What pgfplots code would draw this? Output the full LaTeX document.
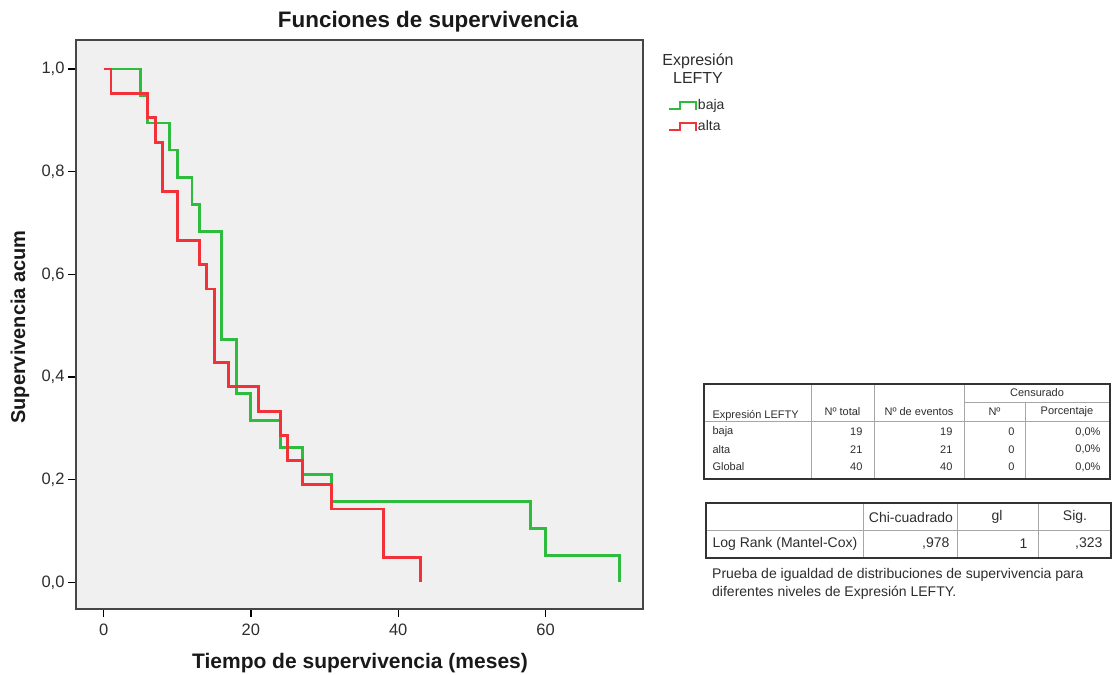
\documentclass[border=0pt]{standalone}
\usepackage{fontspec}
\setmainfont{Liberation Sans}
\usepackage{pgfplots}
\pgfplotsset{compat=1.18}
\definecolor{kmgreen}{RGB}{45,188,62}
\definecolor{kmred}{RGB}{242,50,56}
\definecolor{plotbg}{RGB}{240,240,240}
\definecolor{framec}{RGB}{70,70,70}
\definecolor{txt}{RGB}{45,45,45}
\begin{document}
\begin{tikzpicture}[x=1pt,y=1pt]
\useasboundingbox (0,0) rectangle (1115,674);
\begin{axis}[
  at={(76pt,65pt)}, anchor=south west,
  scale only axis, width=567pt, height=569pt,
  xmin=-3.75, xmax=73.24, ymin=-0.052, ymax=1.0565,
  axis background/.style={fill=plotbg},
  axis line style={framec, line width=1.4pt},
  xtick={0,20,40,60}, ytick={0,0.2,0.4,0.6,0.8,1},
  tick align=outside, xtick pos=bottom, ytick pos=left,
  major tick length=8pt,
  tick style={black, line width=1.3pt},
  /pgf/number format/assume math mode=true,
  yticklabel style={/pgf/number format/.cd, fixed, fixed zerofill, precision=1, use comma},
  ticklabel style={font=\fontsize{16.5}{19}\selectfont, text=txt},
  xticklabel style={yshift=-3pt},
  legend style={at={(axis description cs:1.043,0.897)}, anchor=north west,
    draw=none, fill=none, inner sep=0pt, row sep=6pt,
    font=\fontsize{14}{16}\selectfont,
    nodes={inner sep=1pt, text height=10pt, text depth=3pt, text=txt}},
  legend cell align=left,
  legend image code/.code={\draw[#1, line width=2.4pt] (0pt,-3pt) -- (11pt,-3pt) -- (11pt,4pt) -- (27pt,4pt) -- (27pt,-4pt);},
]
\addplot[const plot, kmgreen, line width=2.9pt] coordinates {
(0,1) (5,0.947368) (6,0.894737) (9,0.842105) (10,0.789474) (12,0.736842)
(13,0.684211) (16,0.473684) (18,0.368421) (20,0.315789) (24,0.263158)
(27,0.210526) (31,0.157895) (58,0.105263) (60,0.052632) (70,0)};
\addlegendentry{baja}
\addplot[const plot, kmred, line width=2.9pt] coordinates {
(0,1) (1,0.952381) (6,0.904762) (7,0.857143) (8,0.761905) (10,0.666667)
(13,0.619048) (14,0.571429) (15,0.428571) (17,0.380952) (21,0.333333)
(24,0.285714) (25,0.238095) (27,0.190476) (31,0.142857) (38,0.047619) (43,0)};
\addlegendentry{alta}
\end{axis}
% titles
\node[anchor=base, font=\bfseries\fontsize{22.4}{24}\selectfont, text=black!90] at (428,646) {Funciones de supervivencia};
\node[anchor=base, font=\bfseries\fontsize{21}{24}\selectfont, text=black!90] at (360,6) {Tiempo de supervivencia (meses)};
\node[rotate=90, anchor=center, font=\bfseries\fontsize{20}{22}\selectfont, text=black!90] at (20,347) {Supervivencia acum};
\node[anchor=base, font=\fontsize{16}{18}\selectfont, text=txt] at (698,608) {Expresión};
\node[anchor=base, font=\fontsize{16}{18}\selectfont, text=txt] at (698,590) {LEFTY};
% table 1
\begin{scope}[font=\fontsize{11}{13}\selectfont, text=txt]
\draw[gray!70, line width=0.8pt] (704,253) -- (1110,253);
\draw[gray!70, line width=0.8pt] (964,272) -- (1110,272);
\draw[gray!70, line width=0.8pt] (811,290) -- (811,195);
\draw[gray!70, line width=0.8pt] (874,290) -- (874,195);
\draw[gray!70, line width=0.8pt] (964,290) -- (964,195);
\draw[gray!70, line width=0.8pt] (1025,272) -- (1025,195);
\draw[black!80, line width=1.5pt] (704,195) rectangle (1110,290);
\node[anchor=west] at (709,258.5) {Expresión LEFTY};
\node at (842.5,262) {Nº total};
\node at (919,262) {Nº de eventos};
\node at (994.5,262) {Nº};
\node at (1067,262) {Porcentaje};
\node at (1037,281) {Censurado};
\foreach \yy/\nm/\a/\b in {242/baja/19/19, 224.5/alta/21/21, 207/Global/40/40}{
  \node[anchor=west] at (709,\yy) {\nm};
  \node[anchor=east] at (866,\yy) {\a};
  \node[anchor=east] at (956,\yy) {\b};
  \node[anchor=east] at (1018,\yy) {0};
  \node[anchor=east] at (1104,\yy) {0,0\%};
}
\end{scope}
% table 2
\begin{scope}[font=\fontsize{14}{16}\selectfont, text=txt]
\draw[gray!70, line width=0.8pt] (706,144) -- (1111,144);
\draw[gray!70, line width=0.8pt] (863,171) -- (863,116);
\draw[gray!70, line width=0.8pt] (957,171) -- (957,116);
\draw[gray!70, line width=0.8pt] (1038,171) -- (1038,116);
\draw[black!80, line width=1.5pt] (706,116) rectangle (1111,171);
\node at (911,157) {Chi-cuadrado};
\node at (997,157) {gl};
\node at (1075,157) {Sig.};
\node[anchor=west] at (709,130) {Log Rank (Mantel-Cox)};
\node[anchor=east] at (953,130) {,978};
\node[anchor=east] at (1031,130) {1};
\node[anchor=east] at (1106,130) {,323};
\node[anchor=base west, inner sep=0pt] at (712,95) {Prueba de igualdad de distribuciones de supervivencia para};
\node[anchor=base west, inner sep=0pt] at (712,77) {diferentes niveles de Expresión LEFTY.};
\end{scope}
\end{tikzpicture}
\end{document}
